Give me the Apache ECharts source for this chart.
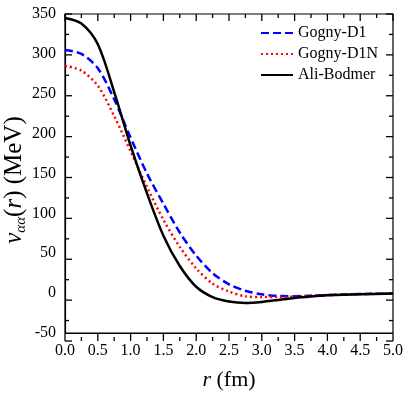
<!DOCTYPE html>
<html>
<head>
<meta charset="utf-8">
<script src="https://cdn.jsdelivr.net/npm/echarts@6/dist/echarts.min.js"></script>
<style>
html, body { margin: 0; padding: 0; background: #fff; }
#chart { width: 407px; height: 396px; }
</style>
</head>
<body>
<div id="chart"></div>
<script>
// r in fm
var rValues = [0, 0.25, 0.5, 0.75, 1.0, 1.25, 1.5, 1.75, 2.0, 2.25, 2.5, 2.75, 3.0, 3.25, 3.5, 3.75, 4.0, 4.5, 5.0];
// potentials in MeV
var gognyD1 = [305, 300, 282, 243, 195, 150, 112, 76, 47, 25, 11, 3, -1.5, -3.5, -3.8, -3.2, -2.5, -1.2, -0.5];
var gognyD1N = [285, 279, 260, 222, 178, 133, 92, 58, 31, 12, 2, -4, -5, -5, -4.3, -3.3, -2.4, -1.2, -0.4];
var aliBodmer = [345, 338, 312, 252, 185, 125, 72, 34, 8, -5, -10.5, -12.3, -11, -8.5, -6, -4.2, -2.8, -1.3, -0.6];
var seriesNames = ['Gogny-D1', 'Gogny-D1N', 'Ali-Bodmer'];

// axis ranges / tick steps
var xMin = 0, xMax = 5, xStep = 0.5;
var yMin = -50, yMax = 350, yStep = 50;

// plot box
var W = 407, H = 396;
var gLeft = 65, gRight = 14, gTop = 14, gBottom = 55;
var gW = W - gLeft - gRight, gH = H - gTop - gBottom;

function pairs(ys) {
    return rValues.map(function (r, i) { return [r, ys[i]]; });
}

var font = 'Liberation Serif';
var chart = echarts.init(document.getElementById('chart'));

// inward frame ticks (major + one minor in between) on all four sides
var frameTicks = [];
function tickLine(x1, y1, x2, y2) {
    frameTicks.push({ type: 'line', silent: true, z: 100,
        shape: { x1: x1, y1: y1, x2: x2, y2: y2 },
        style: { stroke: '#000', lineWidth: 1.3 } });
}
var nx = Math.round((xMax - xMin) / (xStep / 2));
for (var i = 0; i <= nx; i++) {
    var px = gLeft + gW * i / nx;
    var lx = i % 2 === 0 ? 7 : 4;
    tickLine(px, gTop + gH, px, gTop + gH - lx);
    tickLine(px, gTop, px, gTop + lx);
}
var ny = Math.round((yMax - yMin) / (yStep / 2));
for (var j = 0; j <= ny; j++) {
    var py = gTop + gH - gH * j / ny;
    var ly = j % 2 === 0 ? 7 : 4;
    tickLine(gLeft, py, gLeft + ly, py);
    tickLine(gLeft + gW, py, gLeft + gW - ly, py);
}

var frameStyle = { color: '#000', width: 1.2 };

var option = {
    animation: false,
    grid: { left: gLeft, right: gRight, top: gTop, bottom: gBottom, show: true, borderColor: '#000', borderWidth: 1.2 },
    legend: {
        orient: 'vertical',
        left: 255,
        top: 20,
        itemWidth: 32,
        itemHeight: 14,
        itemGap: 5,
        data: seriesNames,
        itemStyle: { opacity: 0, borderWidth: 0 },
        textStyle: { fontFamily: font, fontSize: 16, color: '#000' }
    },
    xAxis: {
        type: 'value', min: xMin, max: xMax, interval: xStep,
        axisLine: { show: true, onZero: false, lineStyle: frameStyle },
        axisTick: { show: false },
        splitLine: { show: false },
        axisLabel: { fontFamily: font, fontSize: 16, color: '#000', margin: 10,
            formatter: function (v) { return v.toFixed(1); } },
        name: '{i|r} (fm)', nameLocation: 'middle', nameGap: 36,
        nameTextStyle: { fontFamily: font, fontSize: 22, color: '#000',
            rich: { i: { fontFamily: font, fontSize: 22, fontStyle: 'italic', color: '#000' } } }
    },
    yAxis: {
        type: 'value', min: yMin, max: yMax, interval: yStep,
        axisLine: { show: true, onZero: false, lineStyle: frameStyle },
        axisTick: { show: false },
        splitLine: { show: false },
        axisLabel: { fontFamily: font, fontSize: 16, color: '#000', margin: 9 }
    },
    graphic: {
        elements: [{
            type: 'text',
            x: 14,
            y: 180,
            rotation: Math.PI / 2,
            style: {
                text: '{i|v}{s|αα}{n|(}{i|r}{n|) (MeV)}',
                align: 'center',
                verticalAlign: 'middle',
                fill: '#000',
                rich: {
                    i: { fontFamily: font, fontSize: 25, fontStyle: 'italic', lineHeight: 30, verticalAlign: 'middle' },
                    n: { fontFamily: font, fontSize: 25, lineHeight: 30, verticalAlign: 'middle' },
                    s: { fontFamily: font, fontSize: 15, fontStyle: 'italic', lineHeight: 15, verticalAlign: 'bottom' }
                }
            }
        }].concat(frameTicks)
    },
    series: [
        {
            name: seriesNames[0], type: 'line', data: pairs(gognyD1), smooth: 0.3,
            showSymbol: false, symbol: 'none',
            lineStyle: { color: '#0000ff', width: 2.5, type: [8, 4] },
            itemStyle: { color: '#0000ff' }
        },
        {
            name: seriesNames[1], type: 'line', data: pairs(gognyD1N), smooth: 0.3,
            showSymbol: false, symbol: 'none',
            lineStyle: { color: '#ff0000', width: 2.5, type: [2, 3] },
            itemStyle: { color: '#ff0000' }
        },
        {
            name: seriesNames[2], type: 'line', data: pairs(aliBodmer), smooth: 0.3,
            showSymbol: false, symbol: 'none',
            lineStyle: { color: '#000', width: 2.5 },
            itemStyle: { color: '#000' }
        }
    ]
};

chart.setOption(option);
</script>
</body>
</html>
